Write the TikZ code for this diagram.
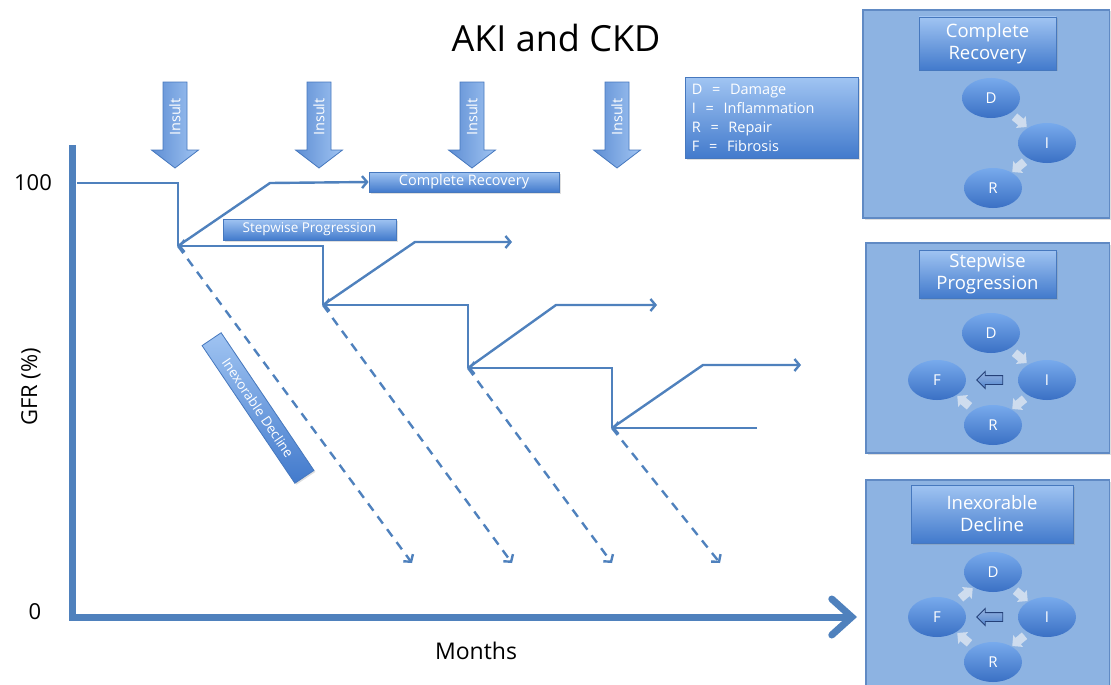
\documentclass[tikz,border=0pt]{standalone}
\usepackage{fontspec}
\setmainfont{Open Sans}
\usetikzlibrary{arrows.meta,shapes.geometric,shapes.arrows,calc,shadows}

\definecolor{trackblue}{RGB}{79,129,189}
\definecolor{boxtop}{RGB}{160,196,242}
\definecolor{boxbot}{RGB}{66,122,204}
\definecolor{boxedge}{RGB}{70,120,190}
\definecolor{panelfill}{RGB}{141,179,226}
\definecolor{paneledge}{RGB}{96,138,196}
\definecolor{elltop}{RGB}{120,170,236}
\definecolor{ellbot}{RGB}{58,112,196}
\definecolor{pale}{RGB}{206,220,238}
\definecolor{fibedge}{RGB}{36,64,120}
\definecolor{fibfill}{RGB}{82,132,205}

\tikzset{
  softshadow/.style={drop shadow={shadow xshift=1.5pt, shadow yshift=-1.5pt, opacity=0.25}},
  track/.style={draw=trackblue, line width=2.4pt, line join=miter},
  tipped/.style={-{Straight Barb[length=5pt,width=12pt]}},
  decline/.style={track, dash pattern=on 9pt off 7pt, -{Straight Barb[length=5pt,width=12pt]}},
  axisline/.style={draw=trackblue, line width=7pt, line join=miter},
  gradbox/.style={draw=boxedge, line width=0.8pt, top color=boxtop, bottom color=boxbot,
    text=white, inner sep=0pt, align=center, softshadow},
  insultarrow/.style={draw=boxedge, line width=0.8pt, left color=boxbot!85!white, right color=boxtop},
  panel/.style={draw=paneledge, fill=panelfill, line width=1.2pt},
  stage/.style={ellipse, top color=elltop, bottom color=ellbot, draw=none,
    minimum width=58pt, minimum height=40pt, text=white,
    font=\fontsize{15}{15}\selectfont, inner sep=0pt},
  cyc/.style={single arrow, fill=pale, draw=none, minimum height=16pt,
    inner xsep=0pt, inner ysep=4pt, single arrow head extend=3.5pt},
  fib/.style={single arrow, draw=fibedge, line width=0.9pt, top color=fibfill!60!white, bottom color=fibfill,
    minimum height=26pt, inner xsep=0pt, inner ysep=4pt, single arrow head extend=4pt,
    shape border rotate=180},
  paneltitle/.style={gradbox, font=\fontsize{18.5}{22}\selectfont},
  axislabel/.style={text=black, font=\fontsize{22}{22}\selectfont},
}

\begin{document}
\begin{tikzpicture}[x=1pt, y=-1pt]
\useasboundingbox (0,0) rectangle (1111,685);

% title
\node[text=black, font=\fontsize{36}{36}\selectfont] (title) at (556,38) {AKI and CKD};

% axes
\coordinate (ytop) at (72,145);
\coordinate (origin) at (72,617);
\coordinate (xend) at (857,617);
\draw[axisline, -{Straight Barb[length=20pt,width=36pt,line cap=round]}] (ytop) -- (origin) -- (xend);
\node[axislabel] (l100) at (33,183) {100};
\node[axislabel] (l0) at (35,612) {0};
\node[axislabel, rotate=90] (gfr) at (31,387) {GFR (\%)};
\node[axislabel, font=\fontsize{23}{23}\selectfont] (months) at (476,651) {Months};

% corners of the stepwise course
\coordinate (c0) at (77,183);
\coordinate (t1) at (178,183);
\coordinate (b1) at (178,246);
\coordinate (t2) at (323,246);
\coordinate (b2) at (323,305);
\coordinate (t3) at (468,305);
\coordinate (b3) at (468,368);
\coordinate (t4) at (612,368);
\coordinate (b4) at (612,428);
\coordinate (e4) at (757,428);

\draw[track] (c0) -- (t1) -- (b1);
\draw[track, tipped] (b2) -- (t2) -- (b1);
\draw[track, tipped] (b3) -- (t3) -- (b2);
\draw[track, tipped] (b4) -- (t4) -- (b3);
\draw[track, tipped] (e4) -- (b4);

% labels on the course
\node[gradbox, minimum width=190pt, minimum height=20pt, font=\fontsize{14.5}{14.5}\selectfont]
  (crlabel) at (464,182) {Complete Recovery};
\node[gradbox, minimum width=173pt, minimum height=21pt, font=\fontsize{13.5}{13.5}\selectfont]
  (splabel) at (309.5,229.5) {Stepwise Progression};
\node[gradbox, rotate=-56, minimum width=166pt, minimum height=23pt, font=\fontsize{13.5}{13.5}\selectfont]
  (idlabel) at (258,408) {Inexorable Decline};

% recovery branches
\coordinate (r1) at (270,183);
\coordinate (r2) at (415,242);
\coordinate (r2e) at (512,242);
\coordinate (r3) at (556,305);
\coordinate (r3e) at (657,305);
\coordinate (r4) at (703,365);
\coordinate (r4e) at (801,365);
\draw[track, tipped] (b1) -- (r1) -- (crlabel.west);
\draw[track, tipped] (b2) -- (r2) -- (r2e);
\draw[track, tipped] (b3) -- (r3) -- (r3e);
\draw[track, tipped] (b4) -- (r4) -- (r4e);

% declining branches
\coordinate (d1) at (412,563);
\coordinate (d2) at (512,563);
\coordinate (d3) at (612,563);
\coordinate (d4) at (720,563);
\draw[decline] (b1) -- (d1);
\draw[decline] (b2) -- (d2);
\draw[decline] (b3) -- (d3);
\draw[decline] (b4) -- (d4);

% insult arrows
\foreach \x/\n in {175/1,319/2,472/3,617/4} {
  \path[insultarrow] (\x-12,82) -- (\x+12,82) -- (\x+12,150) -- (\x+23.5,150)
    -- (\x,168) -- (\x-23.5,150) -- (\x-12,150) -- cycle;
  \node[rotate=90, text=white, font=\fontsize{14.5}{14.5}\selectfont] (insult\n) at (\x,117) {Insult};
}

% legend
\node[gradbox, minimum width=173pt, minimum height=81pt, align=left, anchor=north west,
  text width=160pt, font=\fontsize{14.5}{19}\selectfont] (legend) at (685,77)
  {D\ \ =\ \ Damage\\ I\ \ =\ \ Inflammation\\ R\ \ =\ \ Repair\\ F\ \ =\ \ Fibrosis};

% panel: complete recovery
\path[panel, softshadow] (863,10) rectangle (1109.5,218);
\node[paneltitle, minimum width=137pt, minimum height=53pt] (p1title) at (987.5,43.5) {Complete\\Recovery};
\node[stage] (p1D) at (991,98) {D};
\node[stage] (p1I) at (1047,143) {I};
\node[stage] (p1R) at (993,188) {R};
\node[cyc, rotate=-40] (p1a) at ($(p1D)!0.5!(p1I)$) {};
\node[cyc, rotate=-140] (p1b) at ($(p1I)!0.5!(p1R)$) {};

% panel: stepwise progression
\path[panel, softshadow] (866,243) rectangle (1109.5,453);
\node[paneltitle, minimum width=137pt, minimum height=48pt] (p2title) at (987.5,274) {Stepwise\\Progression};
\node[stage] (p2D) at (991,333) {D};
\node[stage] (p2I) at (1047,380) {I};
\node[stage] (p2R) at (993,425) {R};
\node[stage] (p2F) at (937,380) {F};
\node[cyc, rotate=-40] (p2a) at ($(p2D)!0.5!(p2I)$) {};
\node[cyc, rotate=-140] (p2b) at ($(p2I)!0.5!(p2R)$) {};
\node[cyc, rotate=140] (p2c) at ($(p2R)!0.5!(p2F)$) {};
\node[fib] (p2fib) at ($(p2F)!0.5!(p2I)$) {};

% panel: inexorable decline
\path[panel, softshadow] (866,480) rectangle (1109.5,700);
\node[paneltitle, minimum width=162pt, minimum height=58pt] (p3title) at (992,514) {Inexorable\\Decline};
\node[stage] (p3D) at (993,572) {D};
\node[stage] (p3I) at (1047,617) {I};
\node[stage] (p3R) at (993,662) {R};
\node[stage] (p3F) at (937,617) {F};
\node[cyc, rotate=-40] (p3a) at ($(p3D)!0.5!(p3I)$) {};
\node[cyc, rotate=-140] (p3b) at ($(p3I)!0.5!(p3R)$) {};
\node[cyc, rotate=140] (p3c) at ($(p3R)!0.5!(p3F)$) {};
\node[cyc, rotate=40] (p3d) at ($(p3F)!0.5!(p3D)$) {};
\node[fib] (p3fib) at ($(p3F)!0.5!(p3I)$) {};
\end{tikzpicture}
\end{document}
